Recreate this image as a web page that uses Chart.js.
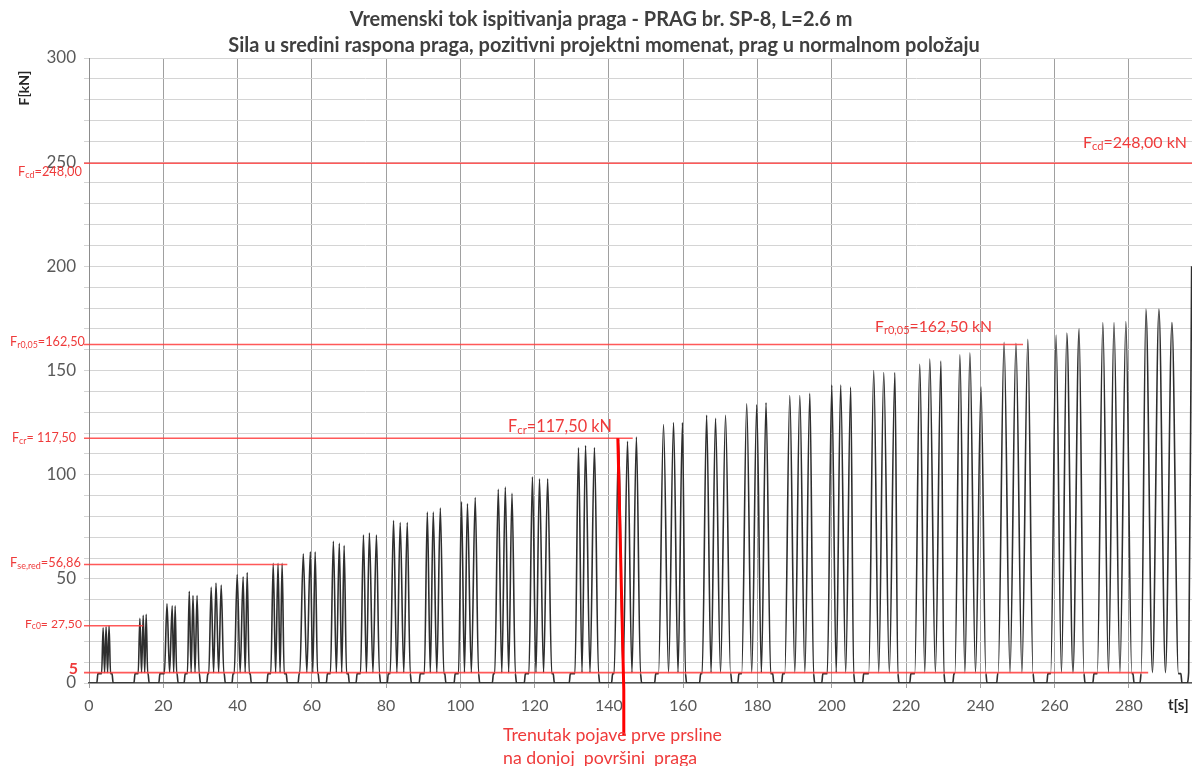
<!DOCTYPE html>
<html><head><meta charset="utf-8">
<script src="https://cdn.jsdelivr.net/npm/chart.js@4.4.0/dist/chart.umd.min.js"></script>
<style>html,body{margin:0;padding:0;background:#fff;overflow:hidden}#wrap{width:1192px;height:766px;position:relative}</style>
</head><body><div id="wrap"><canvas id="c" width="1192" height="766"></canvas></div>
<script>
// ---------- DATA ----------
const titleLines = [
  "Vremenski tok ispitivanja praga - PRAG br. SP-8, L=2.6 m",
  "Sila u sredini raspona praga, pozitivni projektni momenat, prag u normalnom položaju"
];
const yAxisTitle = "F[kN]";
const xAxisTitle = "t[s]";
const xTicks = [0,20,40,60,80,100,120,140,160,180,200,220,240,260,280];
const yLabelTicks = [0,50,100,150,200,250,300];

// load groups: start / end time of each loading block [s]
const groupStart = [2.4,12.4,19.1,25.9,32.0,38.8,48.2,56.6,64.2,72.2,80.6,89.2,98.6,108.9,117.5,129.6,141.0,152.6,164.7,175.0,186.8,197.6,208.6,221.3,232.9,244.7,258.2,270.6,283.3];
const groupEnd   = [6.2,15.9,23.7,29.7,36.4,43.4,53.1,61.7,69.8,78.2,86.5,95.8,104.9,114.8,125.0,137.2,148.5,160.6,172.8,184.1,195.1,205.9,217.8,230.2,241.5,254.2,267.9,281.1,294.0];
// times of the three peaks in each group [s]
const peakTimes = [
  [3.8,4.6,5.4],[13.7,14.6,15.4],[21.0,22.4,23.2],[27.0,28.0,29.1],[32.9,34.2,35.6],
  [39.9,41.5,42.6],[49.6,50.9,52.0],[57.7,59.6,60.9],[65.8,67.4,68.7],[73.9,75.5,77.4],
  [82.0,83.8,85.7],[91.1,92.7,94.6],[100.3,101.9,104.0],[110.2,112.1,113.9],[119.4,121.3,123.5],
  [131.8,133.7,136.1],[142.6,145.0,147.4],[154.7,157.4,159.8],[166.3,168.7,171.4],[177.1,179.8,182.3],
  [188.7,191.4,194.1],[200.0,202.4,205.1],[211.3,214.0,217.0],[223.7,226.4,229.4],[234.5,237.2,240.2],
  [246.4,249.6,252.8],[260.4,263.3,266.6],[273.0,276.0,279.2],[284.6,288.1,291.6]
];
// peak forces of the three cycles in each group [kN]
const peakForces = [
  [26.5,27,27.5],[31,32.5,33],[38,37,37],[44,42,42],[46,48,47],
  [52,51,53],[57.5,57.5,57.5],[62,63,63],[68,67,66],[71,72,71],
  [78,77,77],[82,82,84],[87,86,89],[93,94,91],[99,98,98],
  [113,114,113],[117,116,118],[124,125,125],[128.5,127,128.5],[134,133.5,134.5],
  [138,138,139],[143,143,142],[150,149,149],[153,155.5,154.5],[157.5,158.5,142],
  [163.5,163,165],[167,168,170],[173,173,173.5],[179.5,179.5,173]
];
const holdLoad = 4.5;     // pre-load level between cycles [kN]
const troughLoad = 5;     // unloading level between peaks [kN]
const tailTimes  = [295.6, 296.1, 296.9];
const tailForces = [0, 5, 200];

// red reference lines
const refLevels = [249.5, 162.5, 117.5, 56.86, 27.5, 5];
const refEndT   = [297, 251.5, 146.4, 53.4, 14.6, 285.2];
const crackTime = [142.4, 144.0];   // crack moment marker (top, bottom)
const crackForce = 117.5;

// ---------- build the series ----------
const pts = [{x:0,y:0}];
for (let i=0;i<groupStart.length;i++){
  const s=groupStart[i], e=groupEnd[i], pt=peakTimes[i], pf=peakForces[i];
  const h1=(pt[1]-pt[0])/2, h2=(pt[2]-pt[1])/2;
  pts.push({x:s-0.3,y:0});
  pts.push({x:s,y:holdLoad});
  pts.push({x:Math.max(s,pt[0]-h1),y:holdLoad});
  pts.push({x:pt[0],y:pf[0]});
  pts.push({x:pt[0]+h1,y:troughLoad});
  pts.push({x:pt[1],y:pf[1]});
  pts.push({x:pt[1]+h2,y:troughLoad});
  pts.push({x:pt[2],y:pf[2]});
  pts.push({x:Math.min(e,pt[2]+h2),y:holdLoad});
  pts.push({x:e,y:holdLoad});
  pts.push({x:e+0.3,y:0});
}
for (let i=0;i<tailTimes.length;i++) pts.push({x:tailTimes[i],y:tailForces[i]});

const FONT = 'Lato, "Open Sans", sans-serif';
const RED_TXT = '#ef3b3b';
const RED_LINE = 'rgba(255,60,60,0.85)';

function fitFont(ctx, text, weight, target){
  ctx.font = weight+' 100px '+FONT;
  const w = ctx.measureText(text).width;
  return 100*target/w;
}
// parts: [text, isSub]
function subLabel(ctx, parts, x, cy, target, align, bold){
  const wt = bold ? 'bold' : 'normal';
  let total=0;
  const base=100, sub=70;
  parts.forEach(p=>{ ctx.font = wt+' '+(p[1]?sub:base)+'px '+FONT; total += ctx.measureText(p[0]).width; });
  const k = target/total;
  let xx = align==='right' ? x - target : x;
  ctx.textBaseline='middle'; ctx.textAlign='left';
  parts.forEach(p=>{
    const sz=(p[1]?sub:base)*k;
    ctx.font = wt+' '+sz+'px '+FONT;
    ctx.fillText(p[0], xx, cy + (p[1]? base*k*0.22 : 0));
    xx += ctx.measureText(p[0]).width;
  });
}

const overlay = {
  id:'overlay',
  afterDatasetsDraw(chart){
    const ctx=chart.ctx, xs=chart.scales.x, ys=chart.scales.y, ca=chart.chartArea;
    ctx.save();
    ctx.strokeStyle=RED_LINE; ctx.lineWidth=1.6;
    refLevels.forEach((v,i)=>{
      const y=ys.getPixelForValue(v);
      ctx.beginPath(); ctx.moveTo(ca.left-5,y); ctx.lineTo(Math.min(xs.getPixelForValue(refEndT[i]),ca.right),y); ctx.stroke();
    });
    // crack marker
    ctx.strokeStyle='#ff0000'; ctx.lineWidth=3;
    ctx.beginPath();
    ctx.moveTo(xs.getPixelForValue(crackTime[0]), ys.getPixelForValue(crackForce));
    ctx.lineTo(xs.getPixelForValue(crackTime[1]), ca.bottom+7);
    ctx.lineTo(xs.getPixelForValue(crackTime[1]), ca.bottom+52);
    ctx.stroke();
    ctx.restore();
  },
  afterDraw(chart){
    const ctx=chart.ctx;
    ctx.save();
    // titles
    ctx.fillStyle='#3f3f3f'; ctx.textAlign='center'; ctx.textBaseline='middle';
    const s2=fitFont(ctx,titleLines[1],'bold',752);
    ctx.font='bold '+s2+'px '+FONT;
    ctx.fillText(titleLines[0],601,20);
    ctx.fillText(titleLines[1],604,46);
    // axis titles
    ctx.fillStyle='#262626';
    ctx.save(); ctx.translate(24,88); ctx.rotate(-Math.PI/2);
    ctx.font='bold 14px '+FONT; ctx.fillText(yAxisTitle,0,0); ctx.restore();
    ctx.textAlign='left'; ctx.font='bold 15px '+FONT; ctx.fillText(xAxisTitle,1168,705);
    // red labels
    ctx.fillStyle=RED_TXT;
    subLabel(ctx,[['F',0],['cd',1],['=248,00',0]],82,172,64,'right');
    subLabel(ctx,[['F',0],['r0,05',1],['=162,50',0]],85,342,75,'right');
    subLabel(ctx,[['F',0],['cr',1],['= 117,50',0]],76,438,64,'right');
    subLabel(ctx,[['F',0],['se,red',1],['=56,86',0]],81,563,71,'right');
    subLabel(ctx,[['F',0],['c0',1],['= 27,50',0]],82,624,57,'right');
    ctx.font='bold 16px '+FONT; ctx.textAlign='right'; ctx.textBaseline='middle'; ctx.fillText('5',78,669);
    subLabel(ctx,[['F',0],['cd',1],['=248,00 kN',0]],1083,143,104,'left');
    subLabel(ctx,[['F',0],['r0,05',1],['=162,50 kN',0]],875,327,117,'left');
    subLabel(ctx,[['F',0],['cr',1],['=117,50 kN',0]],508,427,104,'left');
    // crack note
    ctx.textAlign='left'; ctx.textBaseline='middle';
    const n1='Trenutak pojave prve prsline', n2='na donjoj  površini  praga';
    const s=fitFont(ctx,n1,'normal',219); ctx.font=s+'px '+FONT; ctx.fillText(n1,503,735);
    ctx.fillText(n2,503,758);
    ctx.restore();
  }
};

new Chart(document.getElementById('c'),{
  type:'line',
  data:{datasets:[{data:pts,borderColor:'#2e2e2e',borderWidth:1.6,pointRadius:0,cubicInterpolationMode:'monotone',fill:false}]},
  options:{
    responsive:false, animation:false, devicePixelRatio:1,
    layout:{padding:{top:58,left:0,right:0,bottom:0}},
    plugins:{legend:{display:false},tooltip:{enabled:false},title:{display:false}},
    scales:{
      x:{type:'linear',min:0,max:297,
        afterBuildTicks(ax){ax.ticks=xTicks.map(v=>({value:v}));},
        afterFit(ax){ax.height=83;},
        grid:{color:'#a0a0a0',lineWidth:1,tickLength:5,drawOnChartArea:true},
        border:{color:'#595959',width:1.5},
        ticks:{color:'#595959',font:{family:FONT,size:16},padding:8,maxRotation:0,autoSkip:false}
      },
      y:{type:'linear',min:0,max:300,
        ticks:{stepSize:10,autoSkip:false,color:'#595959',font:{family:FONT,size:17},padding:8,
          callback:(v)=> yLabelTicks.includes(v)? String(v):''},
        afterFit(ax){ax.width=89;},
        grid:{color:'#d4d4d4',lineWidth:1,tickLength:5},
        border:{color:'#8c8c8c',width:1}
      }
    }
  },
  plugins:[overlay]
});
</script></body></html>
